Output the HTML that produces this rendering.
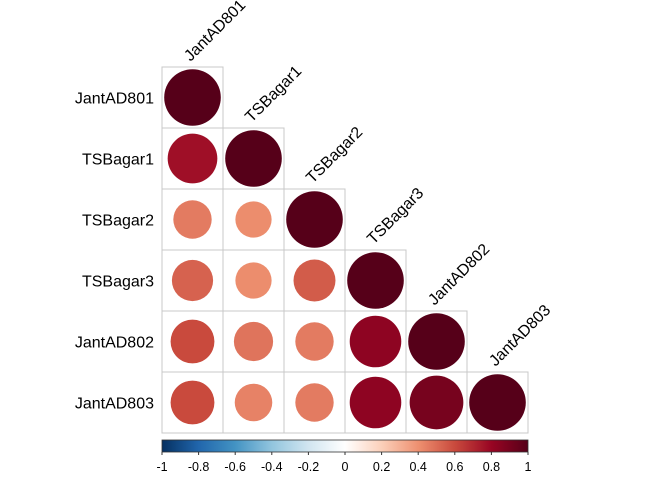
<!DOCTYPE html>
<html><head><meta charset="utf-8"><style>
body{margin:0;background:#fff}
svg{display:block;font-family:"Liberation Sans",Arial,sans-serif}
</style></head><body>
<svg id="chart" width="672" height="480" viewBox="0 0 672 480"></svg>
<script>
const labels = ["JantAD801","TSBagar1","TSBagar2","TSBagar3","JantAD802","JantAD803"];
const corr = [
 [1],
 [0.77,1],
 [0.46,0.41,1],
 [0.53,0.41,0.55,1],
 [0.6,0.48,0.46,0.83,1],
 [0.6,0.44,0.46,0.83,0.9,1]
];
const colorTicks = ["-1","-0.8","-0.6","-0.4","-0.2","0","0.2","0.4","0.6","0.8","1"];

const NS="http://www.w3.org/2000/svg";
const svg=document.getElementById('chart');
const x0=162, y0=67, cw=61, maxR=28.3;
const stops=["#053061","#2166AC","#4393C3","#92C5DE","#D1E5F0","#FFFFFF","#FBD0BA","#EE9070","#C94A3D","#980523","#560019"];
function hex(h){return [1,3,5].map(i=>parseInt(h.substr(i,2),16));}
function col(v){let t=(v+1)/2*10;let i=Math.min(9,Math.floor(t));let f=t-i;const a=hex(stops[i]),b=hex(stops[i+1]);
 return "rgb("+a.map((c,k)=>Math.round(c+(b[k]-c)*f)).join(",")+")";}
function mk(tag,attrs){const e=document.createElementNS(NS,tag);for(const k in attrs)e.setAttribute(k,attrs[k]);svg.appendChild(e);return e;}
const xs=j=>x0+j*cw, ys=i=>y0+i*cw;

for(let i=0;i<labels.length;i++){
 for(let j=0;j<=i;j++){
  const r=mk('rect',{x:xs(j),y:ys(i),width:cw,height:cw,fill:'none',stroke:'#c8c8c8','stroke-width':1});
  
  
  const v=corr[i][j];
  const c=mk('circle',{cx:xs(j)+cw/2,cy:ys(i)+cw/2,r:maxR*Math.sqrt(Math.abs(v)),fill:col(v)});
  
  
 }
 const t=mk('text',{x:154,y:ys(i)+cw/2+6,'text-anchor':'end','font-size':16,fill:'#000'});
 t.textContent=labels[i];
 
 
 const cx=xs(i)+cw/2-2, cy=ys(i)-5;
 const t2=mk('text',{x:cx,y:cy,'font-size':16,fill:'#000',transform:`rotate(-45 ${cx} ${cy})`});
 t2.textContent=labels[i];
 
 
}
const defs=mk('defs',{});
const lg=document.createElementNS(NS,'linearGradient');lg.setAttribute('id','gb');defs.appendChild(lg);
stops.forEach((s,k)=>{const st=document.createElementNS(NS,'stop');st.setAttribute('offset',k/10);st.setAttribute('stop-color',s);lg.appendChild(st);});
const cb=mk('rect',{x:162,y:440,width:366,height:12,fill:'url(#gb)',stroke:'#333','stroke-width':0.8});


colorTicks.forEach((lab,k)=>{
 const v=parseFloat(lab); const x=162+(v+1)/2*366;
 mk('line',{x1:x,x2:x,y1:452,y2:455,stroke:'#333'});
 const t=mk('text',{x:x,y:471,'text-anchor':'middle','font-size':12.5,fill:'#000'});
 t.textContent=lab;
 
 
});
</script>
</body></html>
